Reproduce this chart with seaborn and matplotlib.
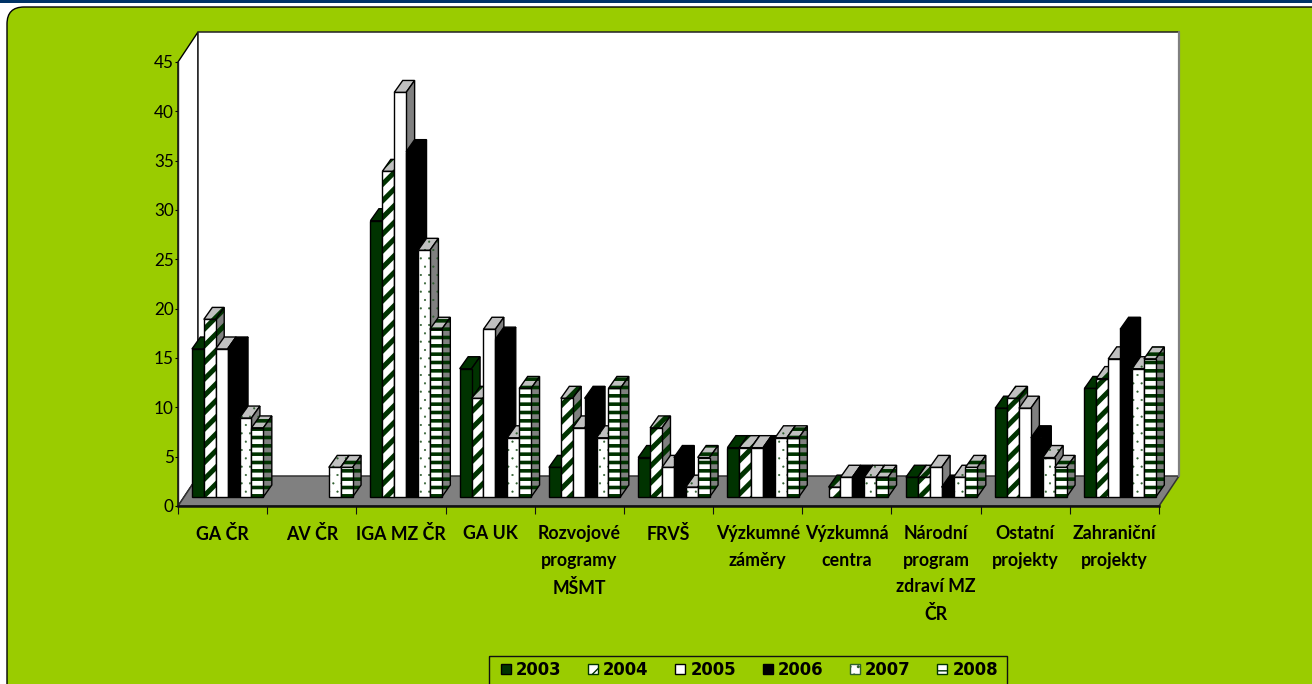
import matplotlib
matplotlib.use("Agg")
import matplotlib.pyplot as plt
from matplotlib.patches import Polygon, Rectangle, FancyBboxPatch, Patch
import seaborn as sns
import pandas as pd

categories = ["GA ČR", "AV ČR", "IGA MZ ČR", "GA UK", "Rozvojové\nprogramy\nMŠMT", "FRVŠ",
              "Výzkumné\nzáměry", "Výzkumná\ncentra", "Národní\nprogram\nzdraví MZ\nČR",
              "Ostatní\nprojekty", "Zahraniční\nprojekty"]
years = ["2003", "2004", "2005", "2006", "2007", "2008"]
v2003 = [15, 0, 28, 13, 3, 4, 5, 0, 2, 9, 11]
v2004 = [18, 0, 33, 10, 10, 7, 5, 1, 2, 10, 12]
v2005 = [15, 0, 41, 17, 7, 3, 5, 2, 3, 9, 14]
v2006 = [15, 0, 35, 16, 10, 4, 5, 2, 1, 6, 17]
v2007 = [8, 3, 25, 6, 6, 1, 6, 2, 2, 4, 13]
v2008 = [7, 3, 17, 11, 11, 4, 6, 2, 3, 3, 14]
series = [v2003, v2004, v2005, v2006, v2007, v2008]

GREEN_BG = "#9ACC00"
DK = "#003300"
W, H = 1312, 684
# per-series: front, top, side faces, hatch, hatch colour (front/side), hatch width
styles = [
    dict(front=DK, top=DK, side=DK, hatch=None, hc=DK, hw=1.0),
    dict(front="white", top="#c0c0c0", side="#808080", hatch="//", hc=DK, hw=3.6),
    dict(front="white", top="#c0c0c0", side="#808080", hatch=None, hc="black", hw=1.0),
    dict(front="black", top="black", side="black", hatch=None, hc="black", hw=1.0),
    dict(front="white", top="#c0c0c0", side="#808080", hatch="..", hc="#2f5f2f", hw=0.3),
    dict(front="white", top="#c0c0c0", side="#808080", hatch="--", hc=DK, hw=2.6),
]

sns.set_style("white")
plt.rcParams["font.family"] = ["Lato", "DejaVu Sans"]

fig = plt.figure(figsize=(W / 100, H / 100), dpi=100, facecolor="white")


def px_axes(x0, x1, ytop, ybot, **kw):
    return fig.add_axes([x0 / W, 1 - ybot / H, (x1 - x0) / W, (ybot - ytop) / H], **kw)


# page background
bg = fig.add_axes([0, 0, 1, 1], zorder=0)
bg.set_xlim(0, W)
bg.set_ylim(H, 0)
bg.axis("off")
bg.add_patch(Rectangle((0, 0), W, 2.5, fc="#003366", ec="none"))
bg.add_patch(FancyBboxPatch((7, 7), W + 40, H + 20, boxstyle="round,pad=0,rounding_size=17",
                            fc=GREEN_BG, ec="black", lw=1.0))
bg.add_patch(Rectangle((488.5, 655.5), 518.5, 40, fc="none", ec="#111111", lw=1.0))

# frame: axis, walls and floor
frame = px_axes(178, 1159, 62, 506, zorder=1, facecolor="none")
frame.set_xlim(-0.5, 10.5)
frame.set_ylim(0, 45)
ddx, ddy = 20 / 89.2, 30 / 9.867
frame.add_patch(Polygon([(-0.5, 0), (-0.5 + ddx, ddy), (-0.5 + ddx, 45 + ddy), (-0.5, 45)],
                        fc="white", ec="black", lw=1.0, clip_on=False))
frame.add_patch(Polygon([(-0.5 + ddx, ddy), (10.5 + ddx, ddy), (10.5 + ddx, 45 + ddy), (-0.5 + ddx, 45 + ddy)],
                        fc="white", ec="none", clip_on=False))
frame.plot([-0.5 + ddx, -0.5 + ddx, 10.5 + ddx], [ddy, 45 + ddy, 45 + ddy], color="#222222", lw=1.1, clip_on=False)
frame.plot([10.5 + ddx, 10.5 + ddx], [ddy, 45 + ddy], color="#808080", lw=1.6, clip_on=False)
frame.add_patch(Polygon([(-0.5, 0), (-0.5 + ddx, ddy), (10.5 + ddx, ddy), (10.5, 0)],
                        fc="#808080", ec="#333333", lw=1.1, clip_on=False))
for side in ("top", "right"):
    frame.spines[side].set_visible(False)
frame.spines["left"].set_color("#222222")
frame.spines["left"].set_linewidth(1.0)
frame.spines["bottom"].set_color("#111111")
frame.spines["bottom"].set_linewidth(1.8)
frame.set_yticks(range(0, 46, 5))
frame.tick_params(axis="y", length=2, width=0.8, pad=1, labelsize=12.3, colors="black", left=True)
frame.set_xticks(range(len(categories)))
frame.set_xticklabels(categories, fontweight="bold", fontsize=12.8, linespacing=1.67, va="top")
frame.tick_params(axis="x", which="major", length=0, pad=14, bottom=True, colors="black")
frame.set_xticks([i - 0.5 for i in range(len(categories) + 1)], minor=True)
frame.tick_params(axis="x", which="minor", length=5.5, width=0.8, color="#111111", bottom=True)

# bars, plane of the bars sits nine pixels above the front axis
ax = px_axes(183, 183 + 11 * 89.25, 497 - 45 * 9.867, 497, zorder=2, facecolor="none")
df = pd.DataFrame({
    "Kategorie": [c for _ in years for c in categories],
    "Rok": [y for y in years for _ in categories],
    "Počet": [v for s in series for v in s],
})
sns.barplot(data=df, x="Kategorie", y="Počet", hue="Rok", order=categories, hue_order=years,
            width=0.80, gap=0, errorbar=None, saturation=1, legend=False, ax=ax,
            palette=[s["front"] for s in styles])
ax.set_xlim(-0.5, 10.5)
ax.set_ylim(0, 45)
ax.axis("off")

dx, dy = 8.5 / 89.25, 12 / 9.867


def face(verts, fc, st, z):
    """Fill + hatch + outline for one face polygon."""
    hatched = Polygon(verts, closed=True, fc=fc, ec=st["hc"] if st["hatch"] else fc, lw=0,
                      hatch=st["hatch"], zorder=z, clip_on=False)
    if hasattr(hatched, "set_hatch_linewidth"):
        hatched.set_hatch_linewidth(st["hw"])
    ax.add_patch(hatched)
    ax.add_patch(Polygon(verts, closed=True, fc="none", ec="black", lw=1.0, zorder=z + 1e-4,
                         clip_on=False, joinstyle="miter"))


for h, container in enumerate(ax.containers):
    st = styles[h]
    for g, bar in enumerate(container.patches):
        val = bar.get_height()
        if not val:
            bar.set_visible(False)
            continue
        x0, w = bar.get_x(), bar.get_width()
        x1 = x0 + w
        z = 3 + g + h * 0.1
        face([(x0, val), (x0 + dx, val + dy), (x1 + dx, val + dy), (x1, val)], st["top"], st, z)
        face([(x1, 0), (x1 + dx, dy), (x1 + dx, val + dy), (x1, val)], st["side"], st, z + 0.01)
        face([(x0, 0), (x1, 0), (x1, val), (x0, val)], st["front"], st, z + 0.02)
        bar.set_visible(False)

# legend
handles = []
for y, st in zip(years, styles):
    p = Patch(fc=st["front"], ec=st["hc"] if st["hatch"] else "black", hatch=st["hatch"], lw=1.0, label=y)
    if hasattr(p, "set_hatch_linewidth"):
        p.set_hatch_linewidth(st["hw"])
    handles.append(p)
leg = fig.legend(handles=handles, loc="upper left", bbox_to_anchor=(501 / W, 1 - 661 / H), ncol=6,
                 frameon=False, labelcolor="black",
                 prop=dict(family="DejaVu Sans", weight="bold", size=11.9),
                 handlelength=0.6, handleheight=0.6, handletextpad=0.3, columnspacing=1.62,
                 borderpad=0, borderaxespad=0)
leg.set_zorder(5)

fig.savefig("out.png", dpi=100)
